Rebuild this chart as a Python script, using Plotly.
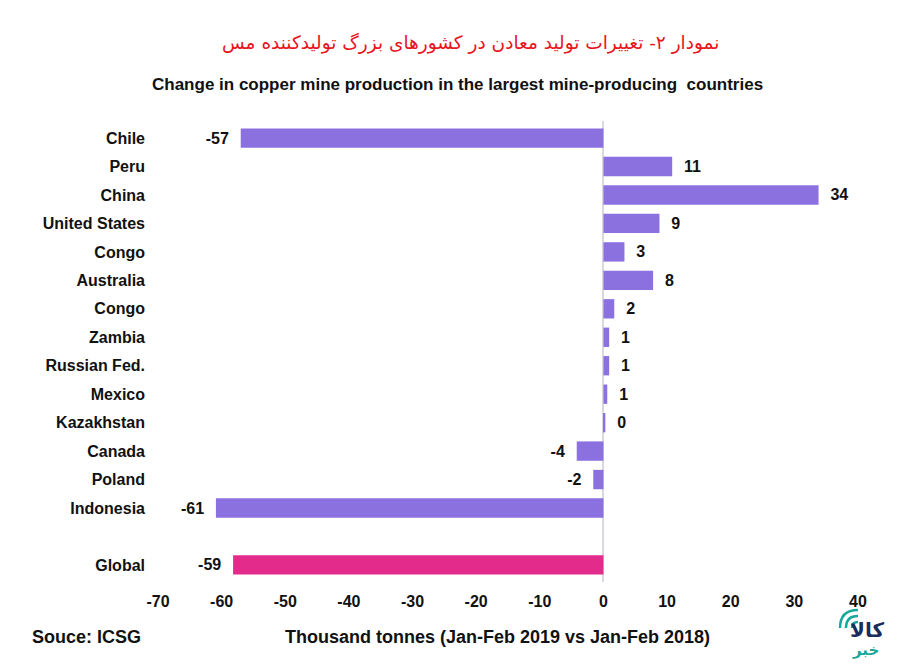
import plotly.graph_objects as go

# data (thousand tonnes)
countries = ["Chile", "Peru", "China", "United States", "Congo", "Australia", "Congo",
             "Zambia", "Russian Fed.", "Mexico", "Kazakhstan", "Canada", "Poland", "Indonesia"]
values = [-57, 10.8, 33.8, 8.8, 3.3, 7.8, 1.7, 0.9, 0.9, 0.6, 0.3, -4.2, -1.6, -60.9]
value_labels = ["-57", "11", "34", "9", "3", "8", "2", "1", "1", "1", "0", "-4", "-2", "-61"]

global_name = "Global"
global_value = -58.2
global_label = "-59"

x_ticks = [-70, -60, -50, -40, -30, -20, -10, 0, 10, 20, 30, 40]

# the page puts the figure 8px in from the window corner
OFF = 8
W, H = 900 - OFF, 664 - OFF
ML, MR, MT, MB = 150, 42, 113, 82

rows = list(range(len(countries)))
global_row = len(countries) + 1

purple = "#8B70E0"
pink = "#E32B8C"
font_main = "Liberation Sans, Arial, sans-serif"
NB = "\u00a0"


def px_x(p):
    return (p - OFF - ML) / (W - ML - MR)


def px_y(p):
    return (H - MB - (p - OFF)) / (H - MT - MB)


def note(text, x, y, size, color="#111111", family=font_main, xanchor="center"):
    fig.add_annotation(
        text=text, x=px_x(x), y=px_y(y), xref="paper", yref="paper",
        showarrow=False, xanchor=xanchor, yanchor="middle",
        font=dict(family=family, size=size, color=color),
    )


def padded(label, v):
    # a little extra room between bar end and its label
    return "<b>" + (label + NB + NB if v < 0 else NB + NB + label) + "</b>"


fig = go.Figure()
fig.add_trace(go.Bar(
    x=values, y=rows, orientation="h", width=0.68,
    marker=dict(color=purple, line=dict(width=0)),
    text=[padded(t, v) for t, v in zip(value_labels, values)],
    textposition="outside", cliponaxis=False,
    textfont=dict(family=font_main, size=16, color="#111111"),
    hoverinfo="x+y", showlegend=False,
))
fig.add_trace(go.Bar(
    x=[global_value], y=[global_row], orientation="h", width=0.68,
    marker=dict(color=pink, line=dict(width=0)),
    text=[padded(global_label, global_value)],
    textposition="outside", cliponaxis=False,
    textfont=dict(family=font_main, size=16, color="#111111"),
    showlegend=False,
))

fig.update_layout(
    width=W, height=H,
    margin=dict(l=ML, r=MR, t=MT, b=MB),
    paper_bgcolor="white", plot_bgcolor="white",
    xaxis=dict(
        range=[-70, 40], tickvals=x_ticks,
        ticktext=["<b>%d</b>" % v for v in x_ticks],
        tickfont=dict(family=font_main, size=16, color="#111111"),
        showgrid=False, showline=False, ticks="",
        zeroline=True, zerolinecolor="#D8D8DE", zerolinewidth=1.5,
        ticklabelstandoff=8,
    ),
    yaxis=dict(
        range=[global_row + 0.6, -0.6],
        tickvals=rows + [global_row],
        ticktext=["<b>" + c + "</b>" for c in countries] + ["<b>" + global_name + "</b>"],
        tickfont=dict(family=font_main, size=16, color="#111111"),
        showgrid=False, showline=False, ticks="", zeroline=False,
        ticklabelstandoff=12,
    ),
)

note("نمودار ۲- تغییرات تولید معادن در کشورهای بزرگ تولیدکننده مس", 470, 43, 18.5,
     color="#E8141C", family="DejaVu Sans, Noto Sans")
note("<b>Change in copper mine production in the largest mine-producing  countries</b>",
     457, 84, 17)
note("<b>Souce: ICSG</b>", 30, 637, 18, xanchor="left")
note("<b>Thousand tonnes (Jan-Feb 2019 vs Jan-Feb 2018)</b>", 497, 637, 18)

# logo (bottom right)
note("<b>کالا</b>", 867, 630, 20, color="#1D2B5C", family="DejaVu Sans")
note("<b>خبر</b>", 866, 650, 15, color="#17A89B", family="DejaVu Sans")
for r in [6, 12, 18]:
    cx, cy = 858, 628
    path = "M %f,%f Q %f,%f %f,%f" % (
        px_x(cx - r), px_y(cy),
        px_x(cx - r), px_y(cy - r),
        px_x(cx), px_y(cy - r),
    )
    fig.add_shape(type="path", path=path, xref="paper", yref="paper",
                  line=dict(color="#17A89B", width=2.5))

fig.write_html("out.html")
